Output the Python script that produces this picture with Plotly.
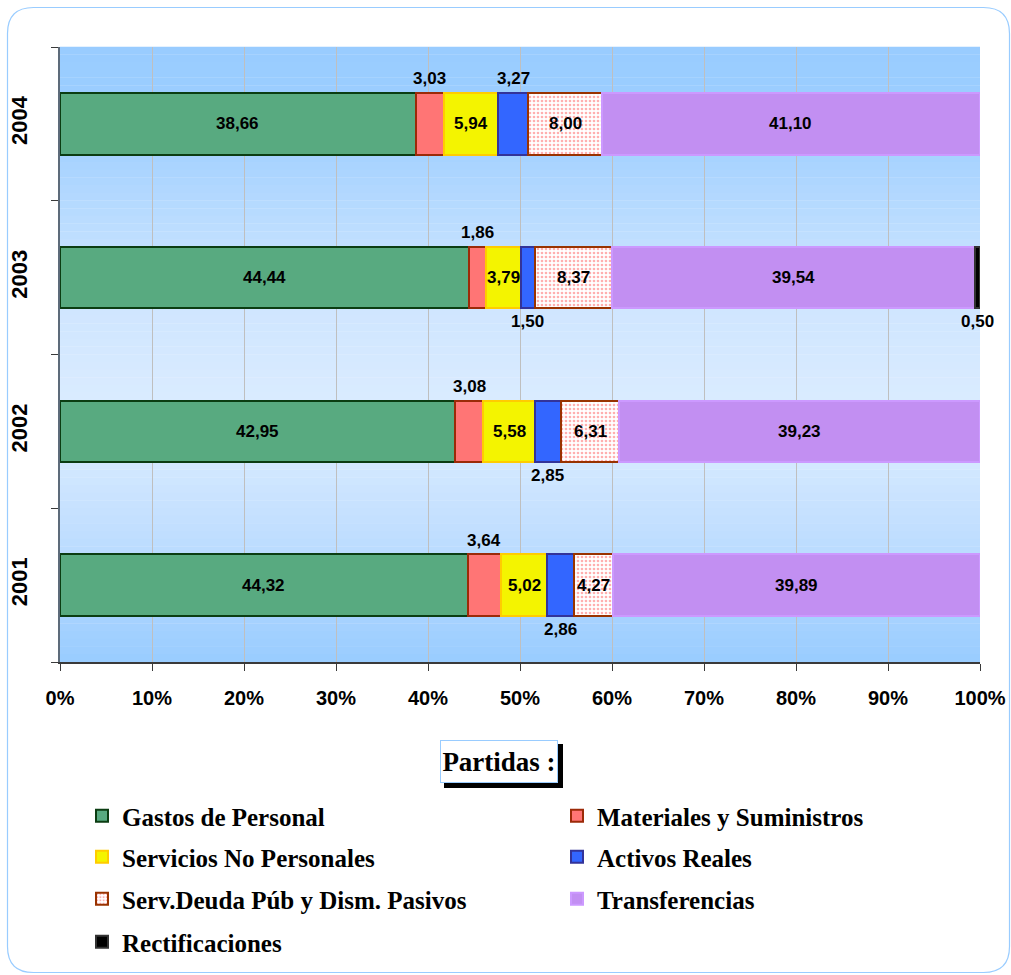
import plotly.graph_objects as go

# ---------------- data ----------------
years = ["2001", "2002", "2003", "2004"]
series_names = ["Gastos de Personal", "Materiales y Suministros", "Servicios No Personales",
                "Activos Reales", "Serv.Deuda Púb y Dism. Pasivos", "Transferencias", "Rectificaciones"]
gastos = [44.32, 42.95, 44.44, 38.66]
materiales = [3.64, 3.08, 1.86, 3.03]
servicios = [5.02, 5.58, 3.79, 5.94]
activos = [2.86, 2.85, 1.50, 3.27]
deuda = [4.27, 6.31, 8.37, 8.00]
transferencias = [39.89, 39.23, 39.54, 41.10]
rectificaciones = [0.0, 0.0, 0.50, 0.0]
x_ticks = [0, 10, 20, 30, 40, 50, 60, 70, 80, 90, 100]

# label placement per series (inside / above / below)
placements = [
    ["inside"] * 4,
    ["above"] * 4,
    ["inside"] * 4,
    ["below", "below", "below", "above"],
    ["inside"] * 4,
    ["inside"] * 4,
    ["below"] * 4,
]

values = [gastos, materiales, servicios, activos, deuda, transferencias, rectificaciones]

fills = ["#58aa80", "#ff7575", "#f4f400", "#3366ff", "#ffffff", "#c28ff2", "#000000"]
lines = ["#0b3d12", "#9c2a08", "#ffcc00", "#333399", "#993300", "#cc99ff", "#333333"]

W, H = 1011, 975
L, R, T, B = 60, 31, 47, 313
PW, PH = W - L - R, H - T - B


def px(xp):
    return (xp - L) / PW


def py(yp):
    return 1 - (yp - T) / PH


# legend grid (column left edge px, row centre px) for each series
legend_cols = [82, 557]
legend_rows = [816, 857, 899, 942]

LEG_FONT = dict(family="Times New Roman, Liberation Serif, serif", size=25,
                color="#000000", weight="bold")

fig = go.Figure()
legend_layouts = {}
for i, (name, vals) in enumerate(zip(series_names, values)):
    marker = dict(color=fills[i], line=dict(color=lines[i], width=2))
    if i == 4:
        marker["pattern"] = dict(shape=".", fgcolor="#ff6060", bgcolor="#ffffff", size=4, solidity=0.35)
    lg = "legend" if i == 0 else f"legend{i+1}"
    fig.add_trace(go.Bar(
        y=years, x=[v if v > 0 else None for v in vals], name=name, orientation="h",
        marker=marker, legend=lg, hoverinfo="x+name",
    ))
    legend_layouts[lg] = dict(
        x=px(legend_cols[i % 2]), y=py(legend_rows[i // 2]), xanchor="left", yanchor="middle",
        orientation="h", font=LEG_FONT, bgcolor="rgba(0,0,0,0)", borderwidth=0,
    )

# ---------------- data labels ----------------
LBL = dict(family="Arial, Liberation Sans, sans-serif", size=17, color="#000000", weight="bold")
cum = [0.0] * len(years)
for i, vals in enumerate(values):
    for j, v in enumerate(vals):
        mid = cum[j] + v / 2
        cum[j] += v
        if v <= 0:
            continue
        pos = placements[i][j]
        shift = 0 if pos == "inside" else (45 if pos == "above" else -44)
        fig.add_annotation(x=mid, y=j, xref="x", yref="y", yshift=shift,
                           text=f"{v:.2f}".replace(".", ","), showarrow=False, font=LBL)

# ---------------- background gradient ----------------
stops = [(0.0, (153, 204, 255)), (0.12, (156, 206, 255)), (0.38, (204, 228, 255)),
         (0.62, (221, 237, 255)), (0.85, (182, 217, 255)), (1.0, (153, 204, 255))]


def col_at(t):
    for (a, ca), (b, cb) in zip(stops[:-1], stops[1:]):
        if a <= t <= b:
            f = (t - a) / (b - a) if b > a else 0
            c = [round(ca[k] + (cb[k] - ca[k]) * f) for k in range(3)]
            return f"rgb({c[0]},{c[1]},{c[2]})"
    return "rgb(153,204,255)"


N = 80
shapes = []
for k in range(N):
    t = (k + 0.5) / N  # from top
    shapes.append(dict(type="rect", xref="paper", yref="paper", x0=0, x1=1,
                       y0=1 - (k + 1) / N, y1=1 - k / N + 0.0005,
                       fillcolor=col_at(t), line=dict(width=0), layer="below"))

# outer rounded frame
fl, ft, fr, fb, rr = 7.5, 7.5, 1009.5, 972.5, 26
path = (f"M {px(fl+rr)},{py(ft)} L {px(fr-rr)},{py(ft)} Q {px(fr)},{py(ft)} {px(fr)},{py(ft+rr)} "
        f"L {px(fr)},{py(fb-rr)} Q {px(fr)},{py(fb)} {px(fr-rr)},{py(fb)} "
        f"L {px(fl+rr)},{py(fb)} Q {px(fl)},{py(fb)} {px(fl)},{py(fb-rr)} "
        f"L {px(fl)},{py(ft+rr)} Q {px(fl)},{py(ft)} {px(fl+rr)},{py(ft)} Z")
shapes.append(dict(type="path", xref="paper", yref="paper", path=path,
                   line=dict(color="#99ccff", width=1.2), layer="below"))

# shadow of the "Partidas :" box
shapes.append(dict(type="rect", xref="paper", yref="paper",
                   x0=px(444), x1=px(563), y0=py(788), y1=py(744),
                   fillcolor="#000000", line=dict(width=0)))

# legend title box ("Partidas :")
TITLE_FONT = dict(family="Times New Roman, Liberation Serif, serif", size=27,
                  weight="bold", color="#000000")
fig.add_annotation(x=px(499), y=py(761.5), xref="paper", yref="paper", text="Partidas :",
                   xanchor="center", yanchor="middle",
                   showarrow=False, width=114, height=39, align="center", valign="middle",
                   font=TITLE_FONT, bgcolor="#ffffff",
                   bordercolor="#99ccff", borderwidth=1, borderpad=1)

fig.update_layout(
    width=W, height=H,
    margin=dict(l=L, r=R, t=T, b=B, autoexpand=False),
    paper_bgcolor="#ffffff", plot_bgcolor="rgba(0,0,0,0)",
    barmode="stack", bargap=0.6,
    shapes=shapes,
    showlegend=True,
    font=dict(family="Arial, Liberation Sans, sans-serif", color="#000000"),
    **legend_layouts,
)

fig.update_xaxes(range=[0, 100], tickvals=x_ticks, ticktext=[f"{v}%" for v in x_ticks],
                 showgrid=True, gridcolor="#bfbfbf", gridwidth=1,
                 showline=True, linecolor="#3a3a3a", linewidth=1.5,
                 ticks="outside", ticklen=7, tickcolor="#3a3a3a", ticklabelstandoff=10,
                 tickfont=dict(size=20, weight="bold", color="#000000"), zeroline=False,
                 fixedrange=True, automargin=False)
fig.update_yaxes(type="category", categoryorder="array", categoryarray=years,
                 showline=True, linecolor="#5d6b7a", linewidth=1.5,
                 ticks="outside", ticklen=7, tickcolor="#3a3a3a", tickson="boundaries",
                 tickangle=-90, ticklabelstandoff=22, showgrid=False,
                 tickfont=dict(size=22, weight="bold", color="#000000"), fixedrange=True,
                 automargin=False)

fig.write_html("out.html", config={"displayModeBar": False},
               post_script="document.body.style.margin='0px';")
